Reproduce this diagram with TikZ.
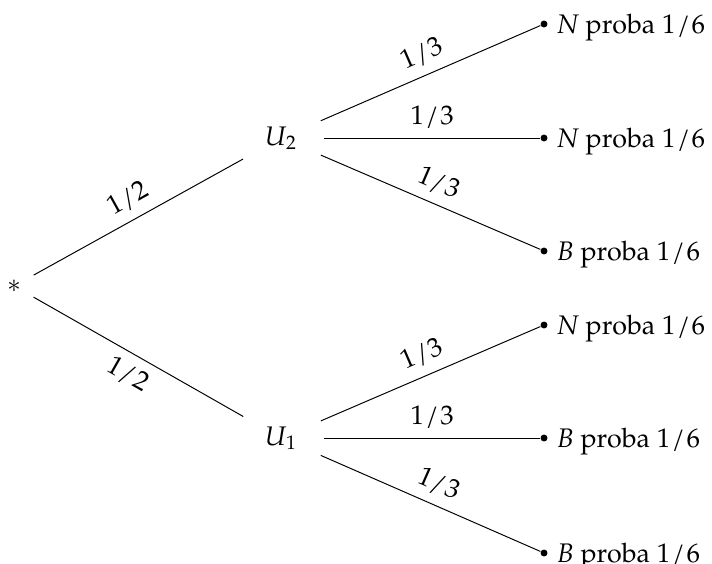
\documentclass[tikz,border=0pt,11pt]{standalone}
\usepackage{fontspec}
\setmainfont{TeX Gyre Pagella}
\usepackage{tikz}

\newcommand{\quot}[2]{#1\kern0.06em/\kern0.06em#2}

\begin{document}
\begin{tikzpicture}[x=0.408pt, y=0.408pt,
    racine/.style={circle, minimum size=18pt, inner sep=0pt},
    urne/.style={circle, minimum size=35pt, inner sep=0pt},
    feuille/.style={circle, fill, inner sep=1pt, label distance=4.5pt},
    issue/.style={anchor=base west, yshift=-3.7pt},
    proba/.style={midway, sloped, above}]
    \useasboundingbox (0,0) rectangle (712,563);

    % racine et urnes
    \node[racine] (R) at (14,277) {$*$};
    \node[urne] (U2) at (281,425) {\textit{U}\textsubscript{2}};
    \node[urne] (U1) at (281,125) {\textit{U}\textsubscript{1}};

    % issues du tirage dans U2
    \node[feuille, label={[issue, name=t1]right:{\textit{N} proba \quot{1}{6}}}] (f1) at (544,539) {};
    \node[feuille, label={[issue, name=t2]right:{\textit{N} proba \quot{1}{6}}}] (f2) at (544,425) {};
    \node[feuille, label={[issue, name=t3]right:{\textit{B} proba \quot{1}{6}}}] (f3) at (544,312) {};

    % issues du tirage dans U1
    \node[feuille, label={[issue, name=t4]right:{\textit{N} proba \quot{1}{6}}}] (f4) at (544,238) {};
    \node[feuille, label={[issue, name=t5]right:{\textit{B} proba \quot{1}{6}}}] (f5) at (544,125) {};
    \node[feuille, label={[issue, name=t6]right:{\textit{B} proba \quot{1}{6}}}] (f6) at (544,10) {};

    % choix de l'urne
    \draw (R) -- (U2) node[proba] (p1) {\quot{1}{2}};
    \draw (R) -- (U1) node[proba, below] (p2) {\quot{1}{2}};

    % branches vers les issues
    \draw (U2) -- (f1) node[proba] (p3) {\quot{1}{3}};
    \draw (U2) -- (f2) node[proba] (p4) {\quot{1}{3}};
    \draw (U2) -- (f3) node[proba] (p5) {\quot{1}{3}};
    \draw (U1) -- (f4) node[proba] (p6) {\quot{1}{3}};
    \draw (U1) -- (f5) node[proba] (p7) {\quot{1}{3}};
    \draw (U1) -- (f6) node[proba] (p8) {\quot{1}{3}};
\end{tikzpicture}
\end{document}
